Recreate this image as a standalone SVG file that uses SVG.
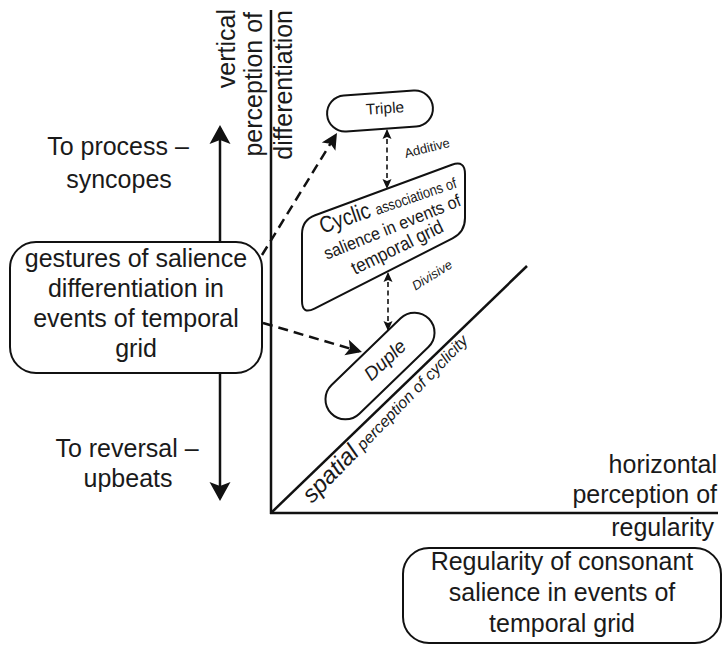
<svg xmlns="http://www.w3.org/2000/svg" width="723" height="646" viewBox="0 0 723 646">
<style>
text{font-family:"Liberation Sans",Arial,sans-serif;fill:#1a1a1a}
.t25{font-size:25px}
.box{fill:#fff;stroke:#111;stroke-width:2}
.axis{fill:none;stroke:#111;stroke-width:2.5}
.solid{fill:none;stroke:#111;stroke-width:2.5}
.dash{fill:none;stroke:#111;stroke-width:2.5;stroke-dasharray:10 6}
.sdash{fill:none;stroke:#111;stroke-width:1.6;stroke-dasharray:5 3.5}
</style>
<defs>
<marker id="big" viewBox="-21 -12 22 24" refX="-3" refY="0" markerWidth="22" markerHeight="24" markerUnits="userSpaceOnUse" orient="auto">
<path d="M0,0 L-19,-10.5 L-15,0 L-19,10.5 Z" fill="#111"/>
</marker>
<marker id="mid" viewBox="-18 -10 19 20" refX="-3" refY="0" markerWidth="19" markerHeight="20" markerUnits="userSpaceOnUse" orient="auto">
<path d="M0,0 L-16,-8 L-12.5,0 L-16,8 Z" fill="#111"/>
</marker>
<marker id="sm" viewBox="-11 -6 12 12" refX="-1.5" refY="0" markerWidth="12" markerHeight="12" markerUnits="userSpaceOnUse" orient="auto-start-reverse">
<path d="M0,0 L-10,-4.5 L-8,0 L-10,4.5 Z" fill="#111"/>
</marker>
</defs>

<g id="axes">
<line class="axis" x1="271" y1="10" x2="271" y2="514"/>
<line class="axis" x1="270" y1="513" x2="718" y2="513"/>
<line class="axis" x1="272" y1="512" x2="527" y2="266"/>
<text class="t25" transform="translate(235,9) rotate(-90)" text-anchor="end">vertical</text>
<text class="t25" transform="translate(262,12) rotate(-90)" text-anchor="end">perception of</text>
<text class="t25" transform="translate(292,10) rotate(-90)" text-anchor="end">differentiation</text>
<text class="t25" x="717" y="473" text-anchor="end">horizontal</text>
<text class="t25" x="717" y="503" text-anchor="end">perception of</text>
<text class="t25" x="714" y="536" text-anchor="end">regularity</text>
<text transform="translate(312,504) rotate(-46)" font-style="italic"><tspan font-size="24">spatial</tspan><tspan font-size="16"> perception of cyclicity</tspan></text>
</g>

<g id="connectors">
<line class="solid" x1="220" y1="242" x2="220" y2="128" marker-end="url(#big)"/>
<line class="solid" x1="220" y1="373" x2="220" y2="498" marker-end="url(#big)"/>
<line class="dash" x1="262" y1="255" x2="335.4" y2="135.6" marker-end="url(#mid)"/>
<line class="dash" x1="263" y1="323" x2="359.1" y2="351.2" marker-end="url(#mid)"/>
<line class="sdash" x1="387" y1="130.5" x2="387" y2="187.5" marker-start="url(#sm)" marker-end="url(#sm)"/>
<line class="sdash" x1="388" y1="273.5" x2="388" y2="329.5" marker-start="url(#sm)" marker-end="url(#sm)"/>
<text font-size="13" transform="translate(427,148) rotate(-14)" text-anchor="middle" dominant-baseline="central">Additive</text>
<text font-size="13" font-style="italic" transform="translate(432,275) rotate(-32)" text-anchor="middle" dominant-baseline="central">Divisive</text>
<text class="t25" x="118" y="155" text-anchor="middle">To process –</text>
<text class="t25" x="119" y="188" text-anchor="middle">syncopes</text>
<text class="t25" x="127" y="457" text-anchor="middle">To reversal –</text>
<text class="t25" x="128" y="487" text-anchor="middle">upbeats</text>
</g>

<g id="gestures">
<rect class="box" x="10" y="242" width="252" height="131" rx="26"/>
<text class="t25" text-anchor="middle"><tspan x="136" y="267">gestures of salience</tspan><tspan x="136" y="297">differentiation in</tspan><tspan x="136" y="327">events of temporal</tspan><tspan x="136" y="357">grid</tspan></text>
</g>

<g id="triple">
<rect class="box" x="-53" y="-18" width="106" height="36" rx="18" transform="translate(380,111) rotate(-4)"/>
<text font-size="15.5" transform="translate(385,108) rotate(-4)" text-anchor="middle" dominant-baseline="central">Triple</text>
</g>

<g id="cyclic">
<path class="box" d="M315.1,215.2 L451.9,164.8 Q465,160 465,174 L465,218 Q465,232 452.5,238.4 L314.5,308.6 Q302,315 302,301 L302,234 Q302,220 315.1,215.2 Z"/>
<text transform="translate(390,210.5) rotate(-19)" text-anchor="middle" textLength="143" lengthAdjust="spacingAndGlyphs"><tspan font-size="23">Cyclic </tspan><tspan font-size="15">associations of</tspan></text>
<text font-size="17.5" transform="translate(394.5,232.5) rotate(-22)" text-anchor="middle" textLength="146" lengthAdjust="spacingAndGlyphs">salience in events of</text>
<text font-size="19" transform="translate(400,253) rotate(-26)" text-anchor="middle" textLength="100" lengthAdjust="spacingAndGlyphs">temporal grid</text>
</g>

<g id="duple">
<rect class="box" x="-68" y="-20" width="136" height="40" rx="20" transform="translate(380,366) rotate(-44)"/>
<text font-size="19" font-style="italic" transform="translate(385,360) rotate(-43)" text-anchor="middle" dominant-baseline="central">Duple</text>
</g>

<g id="regularity">
<rect class="box" x="403" y="548" width="318" height="95" rx="26"/>
<text class="t25" text-anchor="middle"><tspan x="562" y="570">Regularity of consonant</tspan><tspan x="562" y="601">salience in events of</tspan><tspan x="562" y="632">temporal grid</tspan></text>
</g>
</svg>
